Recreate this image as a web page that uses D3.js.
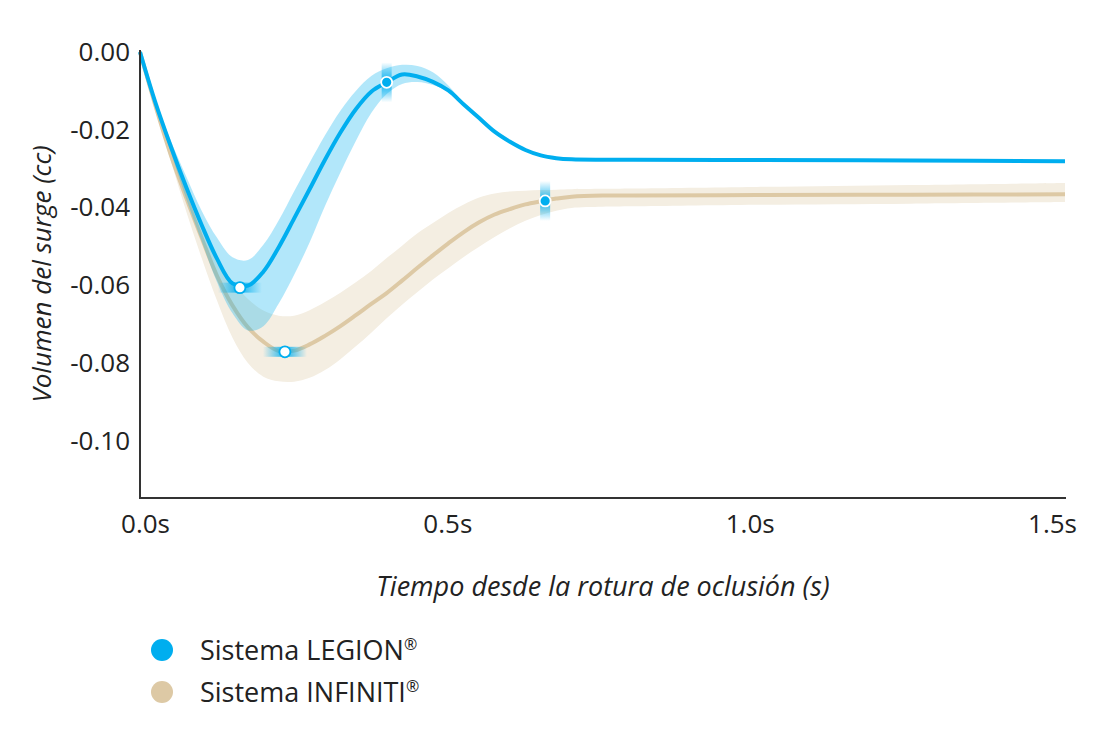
<!DOCTYPE html>
<html>
<head>
<meta charset="utf-8">
<script src="https://cdn.jsdelivr.net/npm/d3@7"></script>
<style>
  body { margin: 0; background: #fff; font-family: "Open Sans", sans-serif; }
  text { fill: #222; }
</style>
</head>
<body>
<script>
// sample times (s)
var times = [0, 0.025, 0.05, 0.075, 0.1, 0.125, 0.15, 0.175, 0.2, 0.225, 0.25, 0.275, 0.3, 0.325, 0.35, 0.375,
  0.4, 0.425, 0.45, 0.475, 0.5, 0.525, 0.55, 0.575, 0.6, 0.625, 0.65, 0.675, 0.7, 0.75, 0.8, 1.0, 1.25, 1.5];

var legionMean = [0, -0.013, -0.0243, -0.0348, -0.0445, -0.0532, -0.0595, -0.0601, -0.0565, -0.0502, -0.0428, -0.0353, -0.0277, -0.0207, -0.0147, -0.0102,
  -0.0078, -0.0058, -0.0063, -0.0077, -0.0099, -0.0135, -0.0170, -0.0205, -0.0231, -0.0252, -0.0266, -0.0273, -0.0276, -0.0277, -0.0277, -0.0278, -0.0279, -0.0281];
var legionHigh = [0, -0.0125, -0.0228, -0.032, -0.0408, -0.0478, -0.0528, -0.0535, -0.0496, -0.0433, -0.0358, -0.0285, -0.0214, -0.0151, -0.0100, -0.0062,
  -0.0042, -0.0033, -0.0036, -0.0052, -0.0086, -0.0133, -0.0170, -0.0205, -0.0231, -0.0252, -0.0266, -0.0273, -0.0276, -0.0277, -0.0277, -0.0278, -0.0279, -0.0281];
var legionLow = [0, -0.0135, -0.0258, -0.0378, -0.0487, -0.0592, -0.0672, -0.0716, -0.0705, -0.0647, -0.0573, -0.0490, -0.0396, -0.0310, -0.0229, -0.0157,
  -0.0108, -0.0082, -0.0077, -0.0085, -0.0103, -0.0136, -0.0170, -0.0205, -0.0231, -0.0252, -0.0266, -0.0273, -0.0276, -0.0277, -0.0277, -0.0278, -0.0279, -0.0281];

var infinitiMean = [0, -0.0138, -0.0265, -0.0375, -0.0478, -0.0576, -0.0652, -0.0708, -0.0745, -0.0769, -0.0768, -0.0752, -0.0730, -0.0705, -0.0677, -0.0648,
  -0.0620, -0.0588, -0.0555, -0.0523, -0.0492, -0.0463, -0.0438, -0.0418, -0.0404, -0.0392, -0.0384, -0.0377, -0.0372, -0.0369, -0.0369, -0.0368, -0.0367, -0.0366];
var infinitiHigh = [0, -0.013, -0.025, -0.0355, -0.045, -0.053, -0.059, -0.0635, -0.0665, -0.0678, -0.0678, -0.0664, -0.0643, -0.0619, -0.0592, -0.0563,
  -0.0530, -0.0498, -0.0466, -0.0440, -0.0414, -0.0392, -0.0374, -0.0364, -0.0359, -0.0357, -0.0355, -0.0354, -0.0353, -0.0352, -0.0351, -0.0347, -0.0342, -0.0337];
var infinitiLow = [0, -0.0145, -0.028, -0.041, -0.053, -0.064, -0.0735, -0.080, -0.0835, -0.0847, -0.0848, -0.0838, -0.0818, -0.0790, -0.0757, -0.0722,
  -0.0685, -0.0650, -0.0617, -0.0585, -0.0556, -0.0527, -0.0501, -0.0476, -0.0453, -0.0434, -0.0419, -0.0408, -0.0401, -0.0398, -0.0397, -0.0393, -0.0390, -0.0386];

// highlighted points
var markerTimes = [0.162, 0.40, 0.235, 0.657];
var markerValues = [-0.0606, -0.0078, -0.0771, -0.0383];
var markerKinds = ['min', 'peak', 'min', 'peak'];

var xTicks = [0, 0.5, 1.0, 1.5];
var yTicks = [0, -0.02, -0.04, -0.06, -0.08, -0.10];

var seriesNames = ['Sistema LEGION', 'Sistema INFINITI'];
var seriesColors = ['#00AEEF', '#DDC9A5'];
var bandColors = ['rgba(0,174,239,0.3)', '#F4EEE2'];

var width = 1110, height = 732;
var svg = d3.select('body').append('svg')
  .attr('width', width)
  .attr('height', height);

var x = d3.scaleLinear().domain([0, 1.5]).range([140, 1065]);
// tick labels sit a bit inside the frame in the original
var xLabel = d3.scaleLinear().domain([0, 1.5]).range([145, 1052]);
var y = d3.scaleLinear().domain([-0.1147, 0]).range([498, 52]);

var defs = svg.append('defs');
var gh = defs.append('linearGradient').attr('id', 'glowH').attr('x1', '0%').attr('x2', '100%');
gh.append('stop').attr('offset', '0%').attr('stop-color', '#00AEEF').attr('stop-opacity', 0);
gh.append('stop').attr('offset', '50%').attr('stop-color', '#00AEEF').attr('stop-opacity', 0.9);
gh.append('stop').attr('offset', '100%').attr('stop-color', '#00AEEF').attr('stop-opacity', 0);
var gv = defs.append('linearGradient').attr('id', 'glowV').attr('x1', '0%').attr('x2', '0%').attr('y1', '0%').attr('y2', '100%');
gv.append('stop').attr('offset', '0%').attr('stop-color', '#00AEEF').attr('stop-opacity', 0);
gv.append('stop').attr('offset', '50%').attr('stop-color', '#00AEEF').attr('stop-opacity', 0.9);
gv.append('stop').attr('offset', '100%').attr('stop-color', '#00AEEF').attr('stop-opacity', 0);

var curve = d3.curveCatmullRom.alpha(0.5);
var band = function(high, low) {
  return d3.area()
    .x(function(d, i){ return x(times[i]); })
    .y0(function(d, i){ return y(low[i]); })
    .y1(function(d, i){ return y(high[i]); })
    .curve(curve)(times);
};
var line = function(vals) {
  return d3.line()
    .x(function(d, i){ return x(times[i]); })
    .y(function(d){ return y(d); })
    .curve(curve)(vals);
};

// infiniti first, legion on top
svg.append('path').attr('d', band(infinitiHigh, infinitiLow)).attr('fill', bandColors[1]);
svg.append('path').attr('d', line(infinitiMean)).attr('fill', 'none')
  .attr('stroke', seriesColors[1]).attr('stroke-width', 4);
svg.append('path').attr('d', band(legionHigh, legionLow)).attr('fill', bandColors[0]);
svg.append('path').attr('d', line(legionMean)).attr('fill', 'none')
  .attr('stroke', seriesColors[0]).attr('stroke-width', 4);

// axes
var yAxis = d3.axisLeft(y).tickValues(yTicks).tickSize(0).tickPadding(10)
  .tickFormat(function(d){ return d3.format('.2f')(d).replace('−', '-'); });
var gy = svg.append('g').attr('transform', 'translate(140,0)').call(yAxis);
gy.select('.domain').remove();
gy.selectAll('text').style('font-size', '26px').style('font-family', '"Open Sans", sans-serif').attr('fill', '#222');

var xAxis = d3.axisBottom(xLabel).tickValues(xTicks).tickSize(0).tickPadding(17)
  .tickFormat(function(d){ return d3.format('.1f')(d) + 's'; });
var gx = svg.append('g').attr('transform', 'translate(0,498)').call(xAxis);
gx.select('.domain').remove();
gx.selectAll('text').style('font-size', '26px').style('font-family', '"Open Sans", sans-serif').attr('fill', '#222');

svg.append('line').attr('x1', 140).attr('x2', 140).attr('y1', 50).attr('y2', 499)
  .attr('stroke', '#333').attr('stroke-width', 2);
svg.append('line').attr('x1', 139).attr('x2', 1066).attr('y1', 498).attr('y2', 498)
  .attr('stroke', '#333').attr('stroke-width', 2);

// markers
var mk = svg.append('g').selectAll('g').data(markerTimes).enter().append('g')
  .attr('transform', function(d, i){ return 'translate(' + x(d) + ',' + y(markerValues[i]) + ')'; });
mk.append('rect')
  .attr('x', function(d, i){ return markerKinds[i] == 'min' ? -22 : -5; })
  .attr('y', function(d, i){ return markerKinds[i] == 'min' ? -5 : -20; })
  .attr('width', function(d, i){ return markerKinds[i] == 'min' ? 44 : 10; })
  .attr('height', function(d, i){ return markerKinds[i] == 'min' ? 10 : 40; })
  .attr('fill', function(d, i){ return markerKinds[i] == 'min' ? 'url(#glowH)' : 'url(#glowV)'; });
mk.append('circle').attr('r', 5.5)
  .attr('fill', function(d, i){ return markerKinds[i] == 'min' ? '#fff' : '#00AEEF'; })
  .attr('stroke', function(d, i){ return markerKinds[i] == 'min' ? '#00AEEF' : '#fff'; })
  .attr('stroke-width', 1.8);

// axis titles
svg.append('text').attr('x', 603).attr('y', 596).attr('text-anchor', 'middle')
  .style('font-size', '27px').style('font-style', 'italic')
  .text('Tiempo desde la rotura de oclusión (s)');
svg.append('text').attr('transform', 'translate(51,274) rotate(-90)').attr('text-anchor', 'middle')
  .style('font-size', '26px').style('font-style', 'italic')
  .text('Volumen del surge (cc)');

// legend
var lg = svg.append('g').selectAll('g').data(seriesNames).enter().append('g')
  .attr('transform', function(d, i){ return 'translate(162,' + (650 + i * 42) + ')'; });
lg.append('circle').attr('r', 11).attr('fill', function(d, i){ return seriesColors[i]; });
var lt = lg.append('text').attr('x', 38).attr('y', 10).style('font-size', '27px');
lt.append('tspan').text(function(d){ return d; });
lt.append('tspan').attr('dy', -10).style('font-size', '16px').text('®');
</script>
</body>
</html>
